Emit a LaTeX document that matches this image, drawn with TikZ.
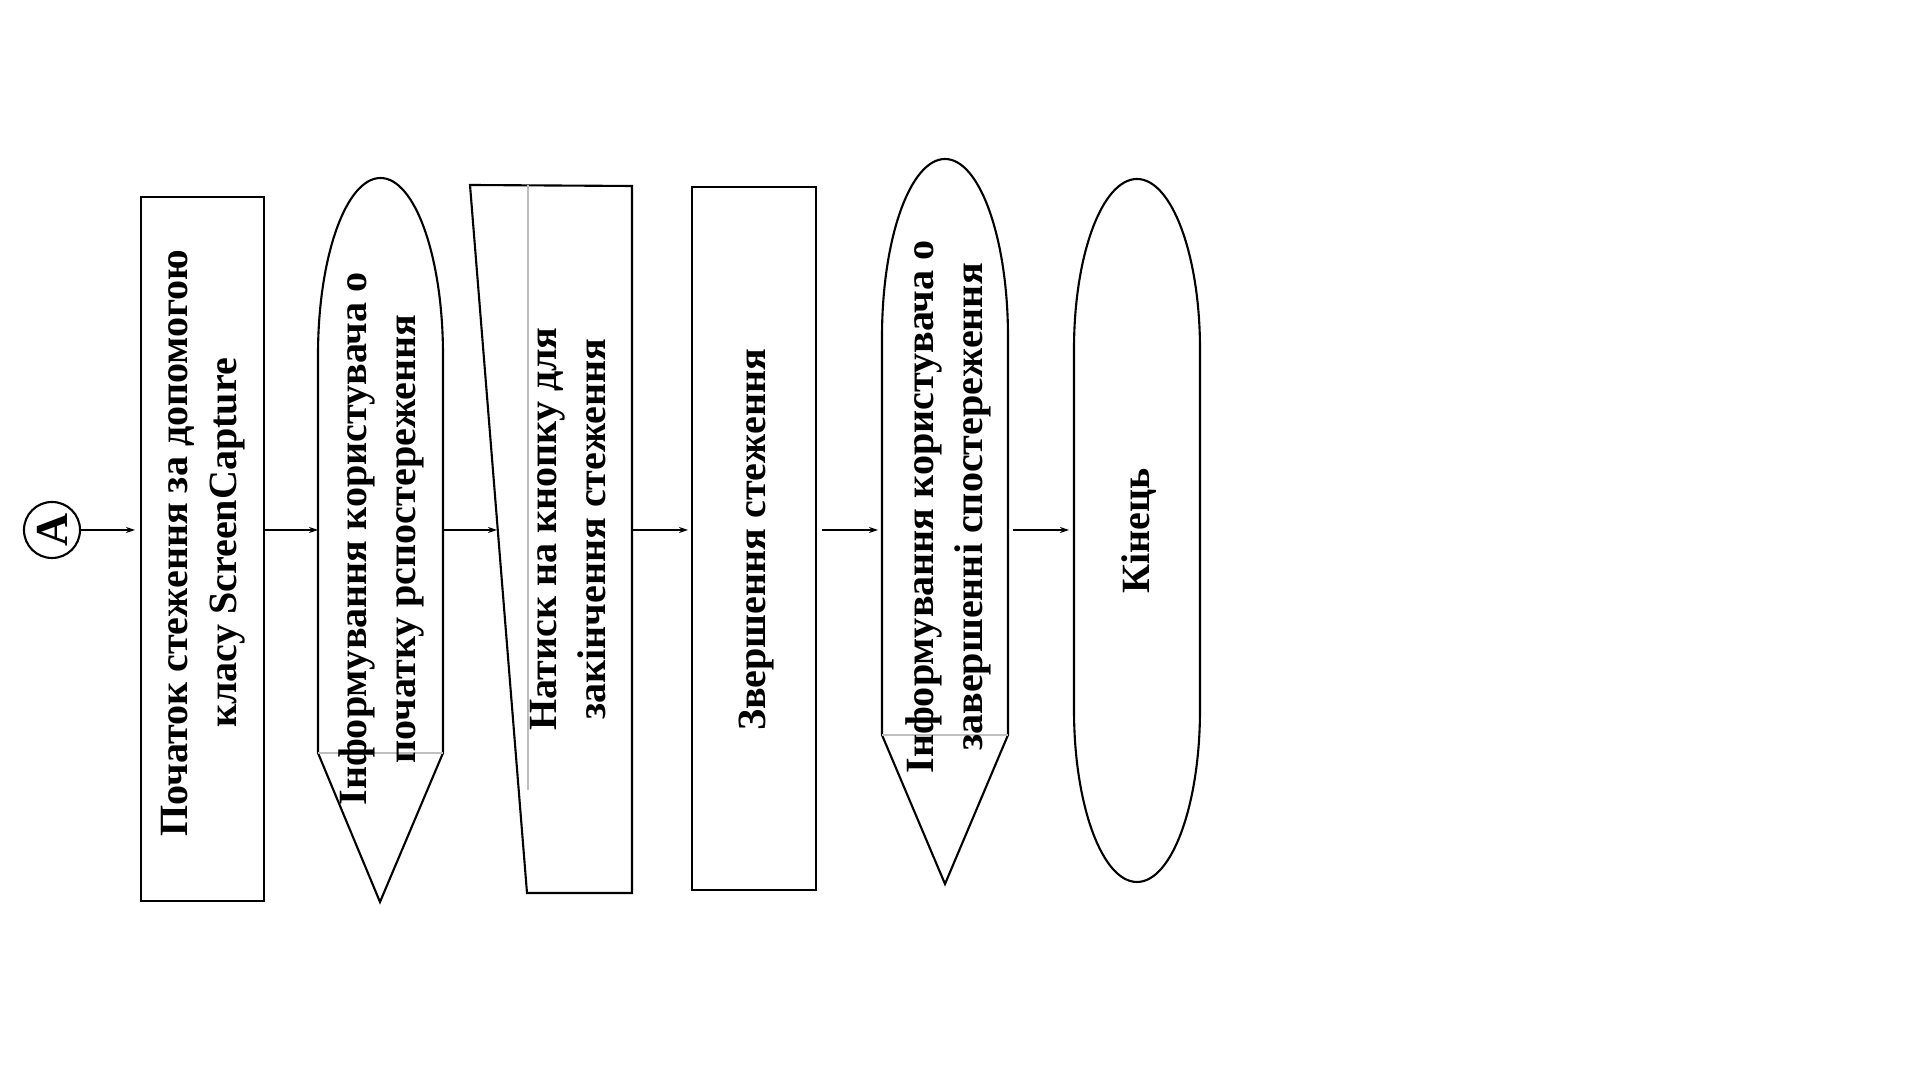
\documentclass[tikz,border=0pt]{standalone}
\usepackage{fontspec}
\setmainfont{Liberation Serif}
\usetikzlibrary{arrows.meta}
\begin{document}
\begin{tikzpicture}[x=0.01cm,y=-0.01cm,
  shapeline/.style={draw=black,line width=0.6pt,fill=white},
  faint/.style={draw=black!25,line width=0.3pt},
  lbl/.style={rotate=90,align=center,inner sep=0pt,font=\bfseries\fontsize{11.4}{13.9}\selectfont},
  conn/.style={draw=black,line width=0.35pt,-{Stealth[length=0.09cm,width=0.06cm]}}]
\useasboundingbox (0,0) rectangle (1920,1080);
% start connector
\node[circle,draw,line width=0.6pt,minimum size=0.56cm,inner sep=0pt,
  font=\bfseries\fontsize{13}{15}\selectfont] (A) at (52,530) {\rotatebox{90}{A}};
% shape 1: process box
\draw[shapeline] (141,197) rectangle (264,901);
\node[lbl] (t1) at (203,543) {Початок стеження за допомогою\\класу ScreenCapture};
% shape 2: display
\draw[shapeline] (318,753) -- (318,355) arc[start angle=180,end angle=0,x radius=62.5,y radius=-177] -- (443,753) -- (380,902) -- cycle;
\draw[faint] (318,753) -- (443,753);
\node[lbl] (t2) at (381,539) {Інформування користувача о\\початку рспостереження};
% shape 3: manual input
\draw[shapeline] (470,185) -- (632,186) -- (632,893) -- (527,893) -- cycle;
\draw[faint] (528,185) -- (528,790);
\node[lbl] (t3) at (568,529) {Натиск на кнопку для\\закінчення стеження};
% shape 4: process box
\draw[shapeline] (692,187) rectangle (816,890);
\node[lbl] (t4) at (756,540) {Звершення стеження};
% shape 5: display
\draw[shapeline] (882,735) -- (882,337) arc[start angle=180,end angle=0,x radius=63,y radius=-178] -- (1008,735) -- (945,884) -- cycle;
\draw[faint] (882,735) -- (1008,735);
\node[lbl] (t5) at (948,507) {Інформування користувача о\\завершенні спостереження};
% shape 6: terminal
\draw[shapeline] (1074,710) -- (1074,349) arc[start angle=180,end angle=0,x radius=63,y radius=-170] -- (1200,710) arc[start angle=0,end angle=-180,x radius=63,y radius=-172] -- cycle;
\node[lbl] (t6) at (1139,531) {Кінець};
% connection points
\coordinate (b1w) at (135,530);
\coordinate (b1e) at (264,530);
\coordinate (b2w) at (318,530);
\coordinate (b2e) at (443,530);
\coordinate (b3w) at (497,530);
\coordinate (b3e) at (632,530);
\coordinate (b4w) at (688,530);
\coordinate (b4e) at (822,530);
\coordinate (b5w) at (878,530);
\coordinate (b5e) at (1013,530);
\coordinate (b6w) at (1069,530);
\draw[conn] (A.east) -- (b1w);
\draw[conn] (b1e) -- (b2w);
\draw[conn] (b2e) -- (b3w);
\draw[conn] (b3e) -- (b4w);
\draw[conn] (b4e) -- (b5w);
\draw[conn] (b5e) -- (b6w);
\end{tikzpicture}
\end{document}
